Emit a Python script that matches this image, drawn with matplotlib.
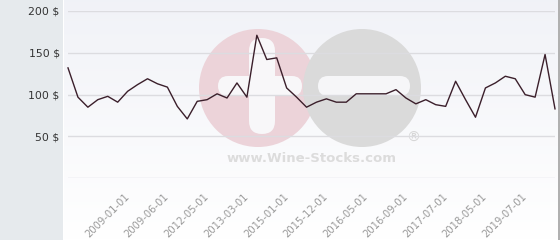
import matplotlib
matplotlib.use("Agg")
import matplotlib.pyplot as plt
import numpy as np
from matplotlib.patches import Circle, FancyBboxPatch, Rectangle

prices = [132, 97, 85, 94, 98, 91, 104, 112, 119, 113,
          109, 86, 71, 92, 94, 101, 96, 114, 97, 171,
          142, 144, 108, 97, 85, 91, 95, 91, 91, 101,
          101, 101, 101, 106, 96, 89, 94, 88, 86, 116,
          94, 73, 108, 114, 122, 119, 100, 97, 148, 83]
tick_index = [6, 10, 14, 18, 22, 26, 30, 34, 38, 42, 46]
tick_labels = ["2009-01-01", "2009-06-01", "2012-05-01", "2013-03-01",
               "2015-01-01", "2015-12-01", "2016-05-01", "2016-09-01",
               "2017-07-01", "2018-05-01", "2019-07-01"]
y_ticks = [50, 100, 150, 200]

W, H = 560, 240
fig = plt.figure(figsize=(W / 100, H / 100), dpi=100)

# background / decoration layer in pixel coordinates
bg = fig.add_axes([0, 0, 1, 1], zorder=0)
bg.set_xlim(0, W)
bg.set_ylim(H, 0)
bg.axis("off")
bg.add_patch(Rectangle((0, 0), 63, H, color="#e6eaed", lw=0))
grad = np.linspace(0, 1, 100)[:, None]
top = np.array([0.945, 0.950, 0.970])
bot = np.array([1.0, 1.0, 1.0])
img = top[None, None, :] * (1 - grad[..., None]) + bot[None, None, :] * grad[..., None]
img = np.repeat(img, 2, axis=1)
bg.imshow(img, extent=(64, 558, H, 0), aspect="auto", interpolation="bilinear")
bg.add_patch(Rectangle((558, 0), 2, H, color="#b0b0b0", lw=0))
# watermark
bg.add_patch(Circle((258, 88), 59, color="#ecd3d9", lw=0))
bg.add_patch(Circle((362, 88), 59, color="#dadada", lw=0))
bg.add_patch(FancyBboxPatch((218, 76), 84, 20, boxstyle="round,pad=0,rounding_size=10",
                            color="#f8f7f9", lw=0))
bg.add_patch(FancyBboxPatch((249, 38), 26, 96, boxstyle="round,pad=0,rounding_size=13",
                            color="#f8f7f9", lw=0))
bg.add_patch(FancyBboxPatch((318, 76), 92, 20, boxstyle="round,pad=0,rounding_size=10",
                            color="#f6f6f8", lw=0))
bg.text(312, 158, "www.Wine-Stocks.com", ha="center", va="center", fontsize=9.5,
        fontweight="bold", color="#dcdcdc", family="DejaVu Sans")
bg.text(413, 138, "®", ha="center", va="center", fontsize=10, color="#d6d6d6")

# main axes
left, right = 68 / W, 555 / W
bottom, topy = 1 - 178.3 / H, 1 - 11 / H
ax = fig.add_axes([left, bottom, right - left, topy - bottom], zorder=1)
ax.patch.set_alpha(0)
x = np.arange(len(prices))
ax.set_xlim(0, len(prices) - 1)
ax.set_ylim(0, 200)
ax.set_yticks([0] + y_ticks)
ax.grid(axis="y", color="#dcdce0", lw=1)
ax.set_axisbelow(True)
ax.plot(x, prices, color="#3b1f2b", lw=1.0, clip_on=False, zorder=3)
for s in ax.spines.values():
    s.set_visible(False)
ax.tick_params(axis="both", length=0)
ax.set_yticklabels([""] + [f"{v} $" for v in y_ticks], fontsize=7.8, color="#333333")
ax.tick_params(axis="y", pad=6)
ax.set_xticks(tick_index)
ax.set_xticklabels(tick_labels, rotation=45, ha="right", va="center",
                   rotation_mode="anchor", fontsize=7.2, color="#999999")
ax.tick_params(axis="x", pad=12)

fig.savefig("out.png", dpi=100)
